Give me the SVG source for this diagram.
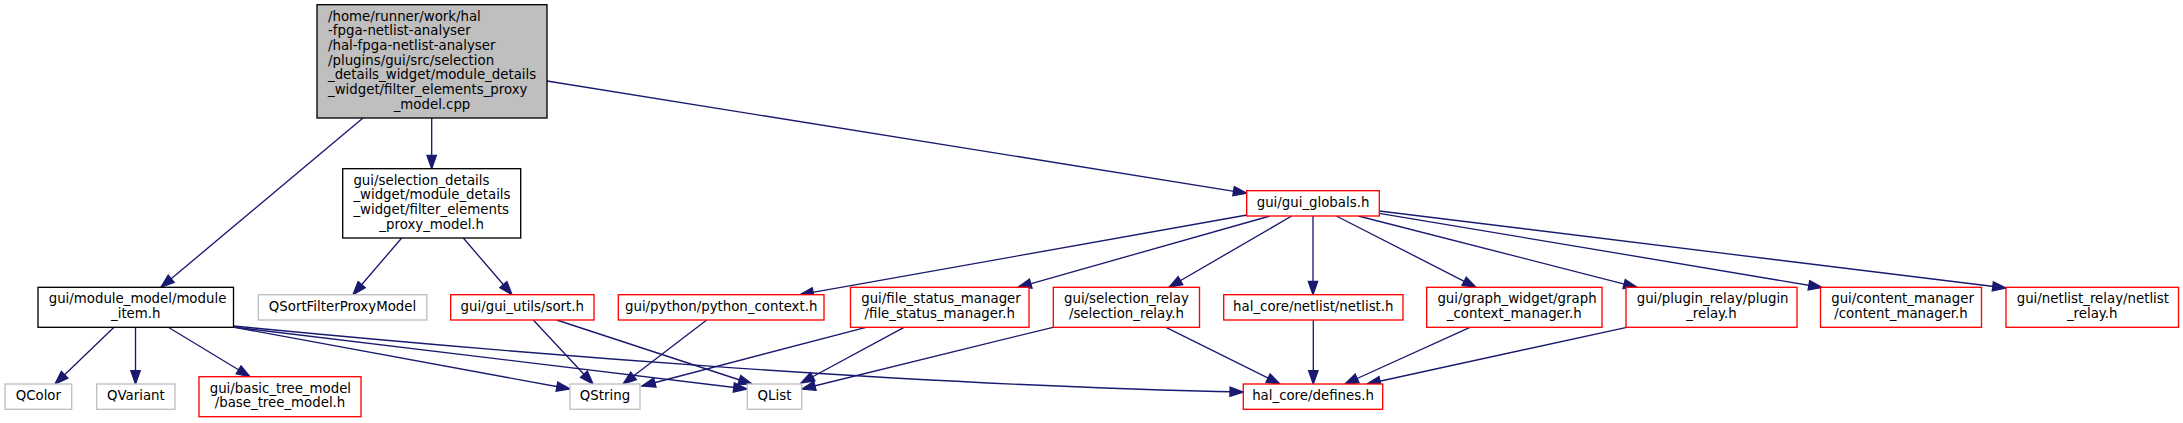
<svg xmlns="http://www.w3.org/2000/svg" width="2183" height="423" viewBox="0 0 2183 423">
<style>
rect{fill:#fff;stroke-width:1.33}
.blk{stroke:#000}
.red{stroke:#f00}
.gry{stroke:#bfbfbf}
.root{fill:#bfbfbf;stroke:#000}
text{font-family:"DejaVu Sans",sans-serif;font-size:13.33px;fill:#000}
.c{text-anchor:middle}
.s{text-anchor:start}
#edges path{fill:none;stroke:#191970;stroke-width:1.33;marker-end:url(#a)}
</style>
<defs>
<marker id="a" markerUnits="userSpaceOnUse" viewBox="-1 -6 16 12" refX="13.3" refY="0" markerWidth="16" markerHeight="12" orient="auto">
<path d="M0,-4.67 L13.3,0 L0,4.67 Z" fill="#191970" stroke="#191970" stroke-width="1.33"/>
</marker>
</defs>
<rect width="2183" height="423" style="fill:#fff;stroke:none"/>
<g id="edges">
<path d="M431.7,118 L431.7,168.7"/>
<path d="M363,118 L161,287.3"/>
<path d="M547,81 L1246.7,193.3"/>
<path d="M401.7,238 L353,294.7"/>
<path d="M463.3,238 L512,294.7"/>
<path d="M1247,215 L800,294.7"/>
<path d="M1270,216 L1018,287.3"/>
<path d="M1291.7,216 L1169,287.3"/>
<path d="M1313,216 L1313,294.7"/>
<path d="M1336.3,216 L1476,287.3"/>
<path d="M1358.3,216 L1637,287.3"/>
<path d="M1379.3,213.3 L1822,287.5"/>
<path d="M1379.3,211 L2006,288"/>
<path d="M533.3,320 L593,384"/>
<path d="M556.7,320 L752,384"/>
<path d="M706.7,320 L623,384"/>
<path d="M866,327.3 L642,386"/>
<path d="M904,327.3 L801,383"/>
<path d="M1053,327.3 L802,389"/>
<path d="M1166,327.3 L1280,384"/>
<path d="M1313.3,320 L1313.3,384"/>
<path d="M1470,327.3 L1345,384"/>
<path d="M1626.7,327.3 L1367,384"/>
<path d="M114,327.3 L55,384"/>
<path d="M135.5,327.3 L135.5,384"/>
<path d="M168.3,327.3 L250,376.7"/>
<path d="M233,327 L570,389"/>
<path d="M233,327 L747,389"/>
<path d="M233,326 C500,352 900,385 1243.3,392"/>
</g>
<g id="root"><rect class="root" x="317" y="4.67" width="230" height="113.33"/>
<text class="s" x="328" y="20.67">/home/runner/work/hal</text>
<text class="s" x="328" y="35.33">-fpga-netlist-analyser</text>
<text class="s" x="328" y="50">/hal-fpga-netlist-analyser</text>
<text class="s" x="328" y="64.67">/plugins/gui/src/selection</text>
<text class="s" x="328" y="79.33">_details_widget/module_details</text>
<text class="s" x="328" y="94">_widget/filter_elements_proxy</text>
<text class="c" x="432" y="108.67">_model.cpp</text></g>
<g id="proxy_model_h"><rect class="blk" x="342.7" y="168.7" width="178" height="69.3"/>
<text class="s" x="353.4" y="184.7">gui/selection_details</text>
<text class="s" x="353.4" y="199.3">_widget/module_details</text>
<text class="s" x="353.4" y="214">_widget/filter_elements</text>
<text class="c" x="431.7" y="228.7">_proxy_model.h</text></g>
<g id="gui_globals"><rect class="red" x="1246.7" y="190.7" width="132.6" height="25.3"/>
<text class="c" x="1313" y="206.7">gui/gui_globals.h</text></g>
<g id="module_item"><rect class="blk" x="38" y="287.3" width="195.5" height="40"/>
<text class="s" x="48.7" y="303.3">gui/module_model/module</text>
<text class="c" x="135.75" y="318">_item.h</text></g>
<g id="qsortfilterproxymodel"><rect class="gry" x="258.3" y="294.7" width="168.5" height="25.3"/>
<text class="c" x="342.5" y="310.7">QSortFilterProxyModel</text></g>
<g id="sort_h"><rect class="red" x="450.7" y="294.7" width="143.3" height="25.3"/>
<text class="c" x="522.3" y="310.7">gui/gui_utils/sort.h</text></g>
<g id="python_context"><rect class="red" x="618.3" y="294.7" width="205.7" height="25.3"/>
<text class="c" x="721.2" y="310.7">gui/python/python_context.h</text></g>
<g id="file_status_manager"><rect class="red" x="850.5" y="287.3" width="178.5" height="40"/>
<text class="s" x="861.2" y="303.3">gui/file_status_manager</text>
<text class="c" x="939.75" y="318">/file_status_manager.h</text></g>
<g id="selection_relay"><rect class="red" x="1053.3" y="287.3" width="146.2" height="40"/>
<text class="s" x="1064" y="303.3">gui/selection_relay</text>
<text class="c" x="1126.4" y="318">/selection_relay.h</text></g>
<g id="netlist_h"><rect class="red" x="1223.7" y="294.7" width="179.3" height="25.3"/>
<text class="c" x="1313.3" y="310.7">hal_core/netlist/netlist.h</text></g>
<g id="graph_context_manager"><rect class="red" x="1426.7" y="287.3" width="175.3" height="40"/>
<text class="s" x="1437.4" y="303.3">gui/graph_widget/graph</text>
<text class="c" x="1514.3" y="318">_context_manager.h</text></g>
<g id="plugin_relay"><rect class="red" x="1626" y="287.3" width="171" height="40"/>
<text class="s" x="1636.7" y="303.3">gui/plugin_relay/plugin</text>
<text class="c" x="1711.5" y="318">_relay.h</text></g>
<g id="content_manager"><rect class="red" x="1820.5" y="287.3" width="161" height="40"/>
<text class="s" x="1831.2" y="303.3">gui/content_manager</text>
<text class="c" x="1901" y="318">/content_manager.h</text></g>
<g id="netlist_relay"><rect class="red" x="2006" y="287.3" width="172.5" height="40"/>
<text class="s" x="2016.7" y="303.3">gui/netlist_relay/netlist</text>
<text class="c" x="2092.25" y="318">_relay.h</text></g>
<g id="qcolor"><rect class="gry" x="5" y="384" width="66.7" height="25.3"/>
<text class="c" x="38.35" y="400">QColor</text></g>
<g id="qvariant"><rect class="gry" x="96.7" y="384" width="78.3" height="25.3"/>
<text class="c" x="135.85" y="400">QVariant</text></g>
<g id="base_tree_model"><rect class="red" x="199" y="376.7" width="162" height="40"/>
<text class="s" x="209.7" y="392.7">gui/basic_tree_model</text>
<text class="c" x="280" y="407.3">/base_tree_model.h</text></g>
<g id="qstring"><rect class="gry" x="570" y="384" width="70" height="25.3"/>
<text class="c" x="605" y="400">QString</text></g>
<g id="qlist"><rect class="gry" x="747.3" y="384" width="54.4" height="25.3"/>
<text class="c" x="774.5" y="400">QList</text></g>
<g id="defines_h"><rect class="red" x="1243.3" y="384" width="139.4" height="25.3"/>
<text class="c" x="1313" y="400">hal_core/defines.h</text></g>
</svg>
